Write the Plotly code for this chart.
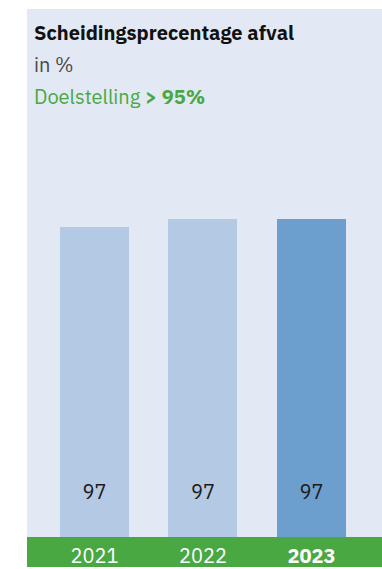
import plotly.graph_objects as go

years = ["2021", "2022", "2023"]
tick_labels = ["2021", "2022", "<b>2023</b>"]
values = [96.6, 97.0, 97.0]
value_labels = ["97", "97", "97"]
bar_colors = ["#B4C9E4", "#B4C9E4", "#6D9FCE"]

W, H = 382, 569
FONT = "IBM Plex Sans, Noto Sans, sans-serif"

fig = go.Figure()
fig.add_trace(go.Bar(
    x=years, y=values, marker=dict(color=bar_colors, line=dict(width=0)),
    width=0.636, hoverinfo="skip", showlegend=False,
))
fig.add_trace(go.Scatter(
    x=years, y=[82.3] * len(years), mode="text", text=value_labels,
    textfont=dict(family=FONT, size=20, color="#1a1a1a"),
    hoverinfo="skip", showlegend=False,
))

def py(p):
    return 1 - p / H

fig.update_layout(
    width=W, height=H, margin=dict(l=0, r=0, t=0, b=0),
    paper_bgcolor="white", plot_bgcolor="#E3E9F4",
    font=dict(family=FONT),
    xaxis=dict(domain=[27 / W, 1], type="category", range=[-0.622, 2.65],
               tickvals=years, ticktext=tick_labels, showgrid=False, zeroline=False,
               showline=False, ticks="", ticklabelstandoff=5,
               tickfont=dict(family=FONT, size=20, color="white")),
    yaxis=dict(domain=[30 / H, 560 / H], range=[80, 108.24], visible=False),
    bargap=0,
    shapes=[dict(type="rect", xref="paper", yref="paper", x0=27 / W, x1=1,
                 y0=0, y1=30 / H, fillcolor="#4AA843", line=dict(width=0), layer="below")],
    annotations=[
        dict(xref="paper", yref="paper", x=32 / W, y=py(33), xanchor="left", yanchor="middle",
             text="<b>Scheidingsprecentage afval</b>", showarrow=False,
             font=dict(family=FONT, size=20, color="#111111")),
        dict(xref="paper", yref="paper", x=32 / W, y=py(65), xanchor="left", yanchor="middle",
             text="in %", showarrow=False,
             font=dict(family=FONT, size=20, color="#4a4a4a")),
        dict(xref="paper", yref="paper", x=32 / W, y=py(97), xanchor="left", yanchor="middle",
             text="Doelstelling <b>&gt; 95%</b>", showarrow=False,
             font=dict(family=FONT, size=20, color="#4AA843")),
    ],
)

fig.write_html(
    "out.html",
    config={"displayModeBar": False},
    post_script="document.body.style.margin='0';document.documentElement.style.overflow='hidden';",
)
